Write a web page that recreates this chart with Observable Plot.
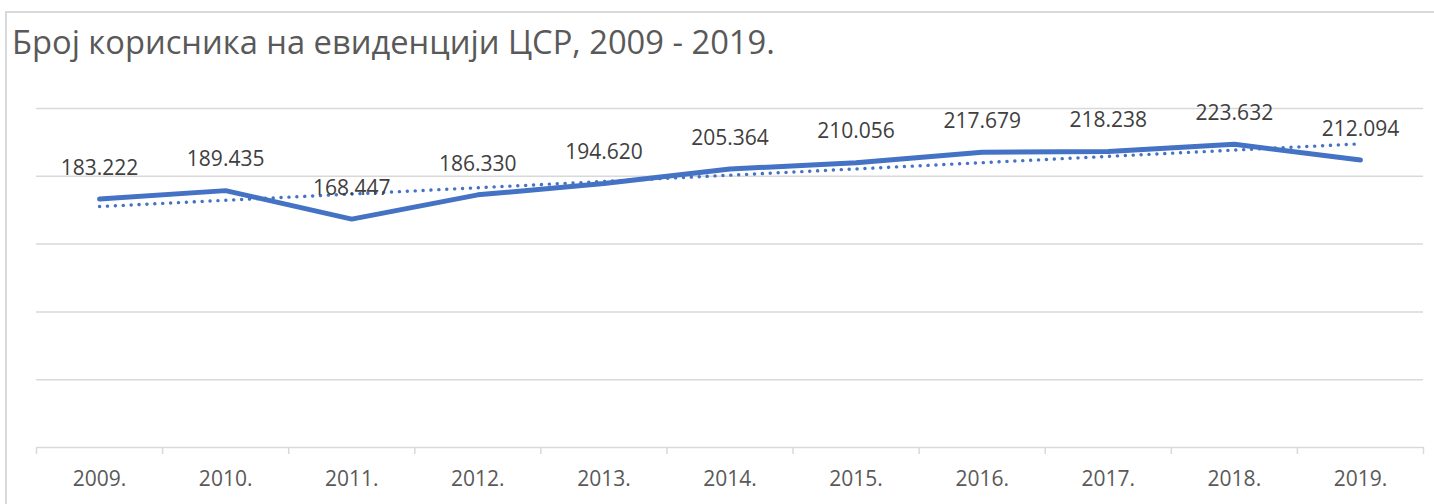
<!DOCTYPE html>
<html>
<head>
<meta charset="utf-8">
<script src="https://cdn.jsdelivr.net/npm/d3@7"></script>
<script src="https://cdn.jsdelivr.net/npm/@observablehq/plot@0.6"></script>
<style>
  html, body { margin: 0; padding: 0; background: #fff; }
  #wrap { position: relative; width: 1434px; height: 504px; overflow: hidden; font-family: "Open Sans", sans-serif; }
  #frame { position: absolute; left: 5px; top: 11px; width: 1460px; height: 520px; border: 2px solid #d9d9d9; box-sizing: border-box; }
  #title { position: absolute; left: 12px; top: 30px; font-size: 28px; line-height: 28px; color: #595959; white-space: nowrap; }
  #chart { position: absolute; left: 0; top: 80px; }
</style>
</head>
<body>
<div id="wrap">
  <div id="frame"></div>
  <div id="title">Број корисника на евиденцији ЦСР, 2009 - 2019.</div>
  <div id="chart"></div>
</div>
<script>
const years = [2009, 2010, 2011, 2012, 2013, 2014, 2015, 2016, 2017, 2018, 2019];
const users = [183222, 189435, 168447, 186330, 194620, 205364, 210056, 217679, 218238, 223632, 212094];
const yTicks = [50000, 100000, 150000, 200000, 250000];
const bandEdges = [2008.5, 2009.5, 2010.5, 2011.5, 2012.5, 2013.5, 2014.5, 2015.5, 2016.5, 2017.5, 2018.5, 2019.5];

const data = years.map((y, i) => ({year: y, value: users[i]}));
const fmt = v => d3.format(",")(v).replace(/,/g, ".");

// fit title width to reference
(function () {
  const t = document.getElementById("title");
  const w = t.getBoundingClientRect().width;
  const target = 763;
  const fs = 28 * target / w;
  t.style.fontSize = fs.toFixed(2) + "px";
  t.style.lineHeight = fs.toFixed(2) + "px";
  t.style.top = (55 - 0.888 * fs).toFixed(1) + "px";
})();

const chart = Plot.plot({
  width: 1434,
  height: 424,
  marginLeft: 36,
  marginRight: 11,
  marginTop: 28,
  marginBottom: 57,
  style: {fontFamily: "Open Sans", background: "transparent"},
  x: {domain: [2008.5, 2019.5], axis: null, label: null},
  y: {domain: [0, 250000], axis: null, label: null},
  marks: [
    Plot.gridY(yTicks, {stroke: "#d9d9d9", strokeOpacity: 1, strokeWidth: 1.5}),
    Plot.ruleY([0], {stroke: "#d9d9d9", strokeWidth: 1.5}),
    Plot.axisX(bandEdges, {tickSize: 7, tickFormat: () => "", label: null, stroke: "#d9d9d9", strokeWidth: 1.5, strokeOpacity: 1}),
    Plot.axisX(years, {tickSize: 0, tickPadding: 24, label: null, tickFormat: d => d + ".", fontSize: 21, fill: "#595959"}),
    Plot.line(data, {x: "year", y: "value", stroke: "#4472C4", strokeWidth: 5, strokeLinejoin: "round", strokeLinecap: "round"}),
    Plot.linearRegressionY(data, {x: "year", y: "value", ci: 0, stroke: "#4472C4", strokeWidth: 3.4, strokeDasharray: "0.1,7.8", strokeLinecap: "round"}),
    Plot.text(data, {x: "year", y: "value", text: d => fmt(d.value), dy: -31, fontSize: 21, fill: "#404040"})
  ]
});
document.getElementById("chart").appendChild(chart);
</script>
</body>
</html>
